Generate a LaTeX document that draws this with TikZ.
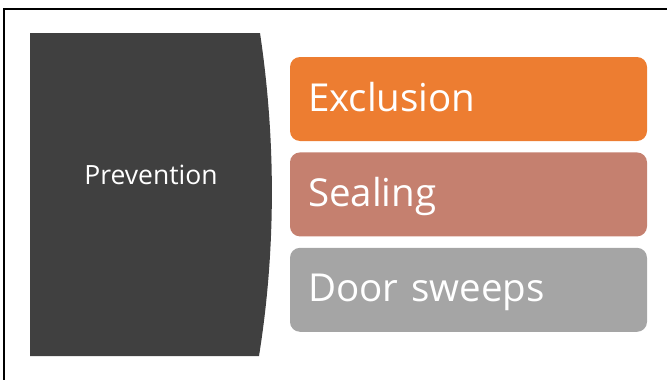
\documentclass[tikz,border=0pt]{standalone}
\usepackage{fontspec}
\setmainfont{Open Sans}
\usepackage{tikz}
\usetikzlibrary{positioning}
\definecolor{prev-dark}{HTML}{404040}
\definecolor{excl-orange}{HTML}{ED7D31}
\definecolor{seal-rose}{HTML}{C5806F}
\definecolor{door-gray}{HTML}{A5A5A5}

\begin{document}
\begin{tikzpicture}[
    x=1pt, y=-1pt,
    item/.style={minimum width=357pt, minimum height=84pt, rounded corners=10pt,
        text width=321pt, align=left, inner xsep=18pt, text height=30pt, text depth=6pt,
        text=white, font=\fontsize{38.5}{44}\selectfont},
    frame/.style={line width=2pt, black}
]
    \useasboundingbox (0,0) rectangle (667,380);
    \draw [frame] (4,380) -- (4,9) -- (667,9);

    % left panel with bulging side
    \fill [prev-dark] (30,33) -- (260,33) .. controls (276,140) and (276,250) .. (259,356) -- (30,356) -- cycle;
    \node (prev) [text=white, font=\fontsize{26.5}{30}\selectfont] at (151,175) {Prevention};

    \node (excl) [item, fill=excl-orange] at (468.5,99) {Exclusion};
    \node (seal) [item, fill=seal-rose, below=11pt of excl] {Sealing};
    \node (door) [item, fill=door-gray, below=11pt of seal] {Door sweeps};
\end{tikzpicture}
\end{document}
